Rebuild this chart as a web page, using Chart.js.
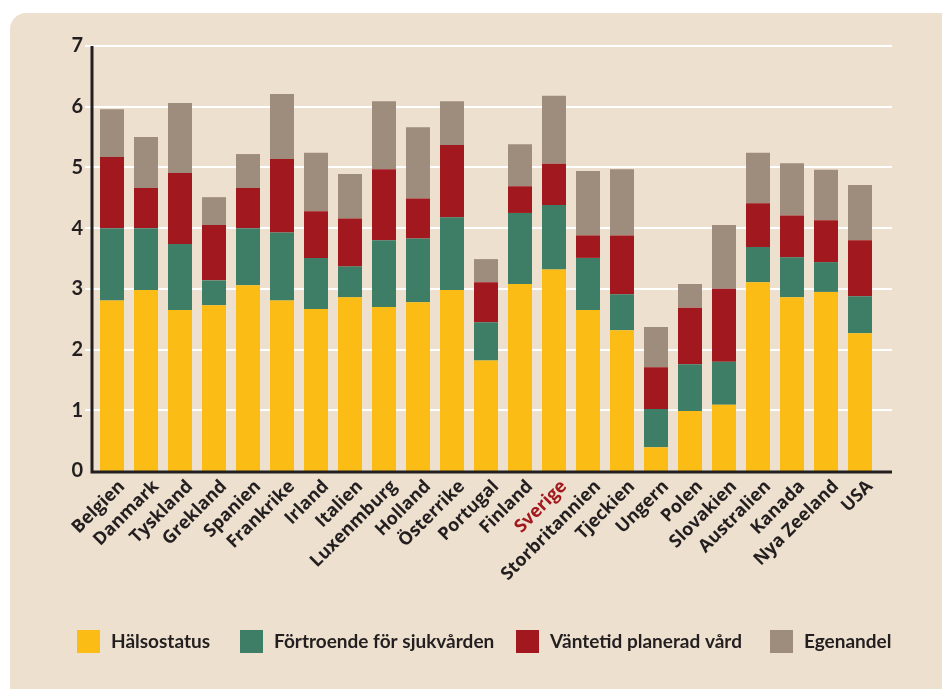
<!DOCTYPE html>
<html>
<head>
<meta charset="utf-8">
<script src="https://cdn.jsdelivr.net/npm/chart.js@4"></script>
<style>
    html, body { margin: 0; padding: 0; background: #fff; }
    #wrap { position: relative; width: 942px; height: 689px; }
</style>
</head>
<body>
<div id="wrap"><canvas id="chart" width="942" height="689"></canvas></div>
<script>
const countries = [
    'Belgien', 'Danmark', 'Tyskland', 'Grekland', 'Spanien', 'Frankrike',
    'Irland', 'Italien', 'Luxenmburg', 'Holland', 'Österrike', 'Portugal',
    'Finland', 'Sverige', 'Storbritannien', 'Tjeckien', 'Ungern', 'Polen',
    'Slovakien', 'Australien', 'Kanada', 'Nya Zeeland', 'USA',
];
const halsostatus = [2.81, 2.98, 2.65, 2.73, 3.06, 2.81, 2.67, 2.86, 2.70, 2.78, 2.98, 1.82, 3.08, 3.32, 2.65, 2.32, 0.39, 0.99, 1.09, 3.11, 2.86, 2.95, 2.27];
const fortroende = [1.19, 1.02, 1.09, 0.41, 0.94, 1.12, 0.84, 0.51, 1.10, 1.05, 1.20, 0.63, 1.17, 1.06, 0.86, 0.59, 0.63, 0.77, 0.71, 0.58, 0.66, 0.49, 0.61];
const vantetid = [1.17, 0.66, 1.17, 0.91, 0.66, 1.21, 0.77, 0.79, 1.17, 0.66, 1.19, 0.66, 0.44, 0.68, 0.37, 0.97, 0.69, 0.93, 1.20, 0.72, 0.69, 0.69, 0.92];
const egenandel = [0.79, 0.84, 1.15, 0.46, 0.56, 1.07, 0.96, 0.73, 1.12, 1.17, 0.72, 0.38, 0.69, 1.12, 1.06, 1.09, 0.66, 0.39, 1.05, 0.83, 0.86, 0.83, 0.91];
const seriesNames = ['Hälsostatus', 'Förtroende för sjukvården', 'Väntetid planerad vård', 'Egenandel'];
const highlighted = 'Sverige';

const yellow = '#fbbc15';
const green = '#3e7d66';
const red = '#a1191e';
const grey = '#9e8d7c';
const beige = '#ede0ce';
const ink = '#231f20';

const font = 'Lato, "Open Sans", sans-serif';
const labelFont = '"Open Sans", Lato, sans-serif';

// panel background with rounded top-left corner
const panel = {
    id: 'panel',
    beforeDraw(chart) {
        const { ctx, width, height } = chart;
        ctx.save();
        ctx.fillStyle = '#ffffff';
        ctx.fillRect(0, 0, width, height);
        ctx.fillStyle = beige;
        ctx.beginPath();
        ctx.roundRect(10, 13, width + 20, height + 20, 16);
        ctx.fill();
        ctx.restore();
    },
};

// white grid lines running past the bars, plus the dark axes
const axes = {
    id: 'axes',
    beforeDatasetsDraw(chart) {
        const { ctx } = chart;
        const y = chart.scales.y;
        ctx.save();
        ctx.strokeStyle = '#ffffff';
        ctx.lineWidth = 2;
        for (let v = 1; v <= 7; v++) {
            const py = Math.round(y.getPixelForValue(v));
            ctx.beginPath();
            ctx.moveTo(85, py);
            ctx.lineTo(892, py);
            ctx.stroke();
        }
        ctx.restore();
    },
    afterDatasetsDraw(chart) {
        const { ctx } = chart;
        const y = chart.scales.y;
        const top = y.getPixelForValue(7);
        const bottom = y.getPixelForValue(0) + 1;
        ctx.save();
        ctx.strokeStyle = ink;
        ctx.lineWidth = 3;
        ctx.beginPath();
        ctx.moveTo(92, top);
        ctx.lineTo(92, bottom + 1.5);
        ctx.moveTo(92, bottom);
        ctx.lineTo(892, bottom);
        ctx.stroke();
        ctx.restore();
    },
};

// legend drawn under the axis labels
const legendRow = {
    id: 'legendRow',
    afterDraw(chart) {
        const { ctx } = chart;
        const starts = [77, 240, 516, 770];
        ctx.save();
        ctx.font = `bold 19px ${font}`;
        ctx.textBaseline = 'middle';
        chart.data.datasets.forEach((ds, i) => {
            ctx.fillStyle = ds.backgroundColor;
            ctx.fillRect(starts[i], 630, 23, 23);
            ctx.fillStyle = ink;
            ctx.fillText(ds.label, starts[i] + 34, 642);
        });
        ctx.restore();
    },
};

new Chart(document.getElementById('chart'), {
    type: 'bar',
    data: {
        labels: countries,
        datasets: [
            { label: seriesNames[0], data: halsostatus, backgroundColor: yellow },
            { label: seriesNames[1], data: fortroende, backgroundColor: green },
            { label: seriesNames[2], data: vantetid, backgroundColor: red },
            { label: seriesNames[3], data: egenandel, backgroundColor: grey },
        ],
    },
    options: {
        responsive: false,
        animation: false,
        devicePixelRatio: 1,
        layout: { padding: { top: 46, right: 65, bottom: 0, left: 0 } },
        datasets: {
            bar: { categoryPercentage: 1, barPercentage: 0.706, borderWidth: 0 },
        },
        scales: {
            x: {
                stacked: true,
                grid: { display: false, drawTicks: false },
                border: { display: false },
                afterFit(scale) { scale.height = 218; },
                ticks: {
                    minRotation: 45,
                    maxRotation: 45,
                    padding: 5,
                    labelOffset: 10,
                    autoSkip: false,
                    font: { family: labelFont, size: 18, weight: 'bold' },
                    color: (c) => (countries[c.index] === highlighted ? red : ink),
                },
            },
            y: {
                stacked: true,
                min: 0,
                max: 7,
                grid: { display: false, drawTicks: false },
                border: { display: false },
                afterFit(scale) { scale.width = 95; },
                ticks: {
                    stepSize: 1,
                    padding: 12,
                    font: { family: font, size: 20, weight: 'bold' },
                    color: ink,
                },
            },
        },
        plugins: {
            legend: { display: false },
            tooltip: { enabled: false },
        },
    },
    plugins: [panel, axes, legendRow],
});
</script>
</body>
</html>
